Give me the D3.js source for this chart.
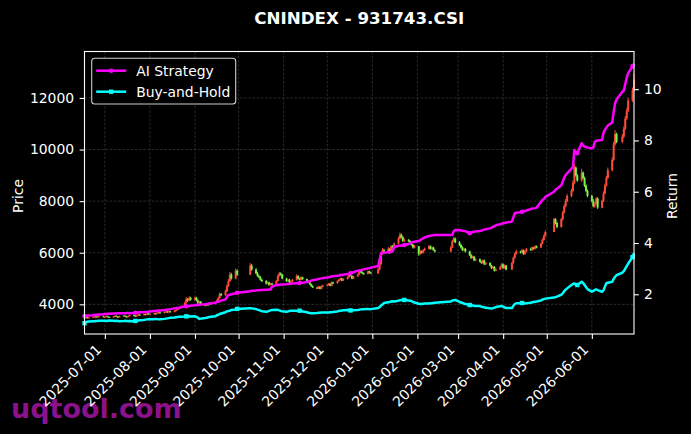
<!DOCTYPE html>
<html>
<head>
<meta charset="utf-8">
<script src="https://cdn.jsdelivr.net/npm/d3@7"></script>
<style>
    body { margin: 0; background: #000; }
    svg { display: block; font-family: "DejaVu Sans", sans-serif; }
</style>
</head>
<body>
<div id="chart-area"></div>
<script>
// trading calendar: weekdays between these dates, minus exchange holidays
const startDate = "2025-06-17";
const endDate = "2026-06-30";
const holidays = [
    "2025-10-01", "2025-10-02", "2025-10-03", "2025-10-06", "2025-10-07", "2025-10-08",
    "2026-01-01", "2026-01-02",
    "2026-02-16", "2026-02-17", "2026-02-18", "2026-02-19", "2026-02-20", "2026-02-23",
    "2026-04-06", "2026-05-01", "2026-05-04", "2026-05-05", "2026-06-19"
];

// daily close of 931743.CSI (one row per month); open = previous close
const closes = [
    3480, 3500, 3470, 3490, 3510, 3530, 3500, 3520, 3540, 3510,
    3520, 3540, 3510, 3490, 3530, 3550, 3520, 3500, 3540, 3560, 3530, 3510, 3550, 3580, 3560, 3540, 3570, 3600, 3580, 3620, 3600, 3640, 3610,
    3620, 3650, 3630, 3670, 3690, 3660, 3700, 3720, 3690, 3730, 3700, 3750, 3780, 3820, 3850, 3900, 4050, 4200, 4150, 4250, 4180,
    4250, 4150, 4050, 4100, 4000, 3950, 4000, 3980, 4050, 4020, 4080, 4150, 4250, 4400, 4350, 4500, 4700, 4900, 5150, 5000, 5300, 5150,
    5500, 5350, 5200, 5100, 5050, 4950, 4900, 4800, 4850, 4750, 4800, 4780, 4900, 5100, 5200, 5150, 5000,
    4900, 4950, 4850, 4880, 4950, 5100, 5000, 4950, 5050, 4980, 4900, 4850, 4780, 4700, 4650, 4620, 4680, 4600, 4700, 4720,
    4750, 4800, 4720, 4850, 4820, 4900, 4950, 5000, 4920, 4980, 5050, 5150, 5100, 5000, 5080, 5150, 5300, 5250, 5200, 5180, 5280, 5230, 5200,
    5350, 5550, 5950, 6100, 6050, 6150, 6000, 6250, 6200, 6350, 6550, 6700, 6600, 6450, 6500, 6450, 6350, 6300, 6200, 6250,
    5950, 6050, 6000, 6100, 6150, 6250, 6150, 6200, 6100, 6050, 6200, 6450, 6550, 6400,
    6300, 6200, 6100, 6150, 6050, 5900, 5800, 5850, 5700, 5750, 5650, 5600, 5700, 5550, 5600, 5500, 5400, 5450, 5300, 5350, 5450, 5550,
    5400, 5500, 5350, 5600, 5800, 5950, 6050, 6000, 6100, 5950, 6050, 6150, 6100, 6200, 6150, 6250, 6200, 6350, 6500, 6650, 6800,
    7300, 7150, 7000, 7300, 7550, 7800, 8000, 8200, 8400, 8700, 9300, 9000, 8800, 9100, 8900, 8600, 8400, 8200,
    8000, 7800, 7900, 8100, 7750, 8000, 8300, 8600, 8900, 9200, 9600, 10200, 10600, 10300, 10500, 10800, 11200, 11500, 11900, 12300, 12700
];

const highs = [
    3510, 3530, 3515, 3510, 3535, 3560, 3545, 3540, 3565, 3550,
    3545, 3565, 3560, 3530, 3550, 3575, 3570, 3540, 3565, 3590, 3575, 3550, 3575, 3610, 3600, 3575, 3595, 3630, 3615, 3650, 3640, 3670, 3660,
    3650, 3680, 3670, 3700, 3720, 3710, 3730, 3750, 3740, 3760, 3750, 3780, 3810, 3860, 3890, 3950, 4100, 4280, 4240, 4320, 4290,
    4300, 4290, 4190, 4140, 4130, 4030, 4040, 4030, 4090, 4080, 4110, 4190, 4300, 4460, 4440, 4560, 4770, 4980, 5250, 5220, 5380, 5360,
    5600, 5560, 5400, 5260, 5150, 5090, 4990, 4940, 4890, 4880, 4830, 4840, 4940, 5150, 5260, 5240, 5180,
    5030, 4980, 4990, 4910, 4980, 5160, 5130, 5030, 5090, 5070, 5000, 4930, 4880, 4800, 4730, 4680, 4720, 4700, 4740, 4760,
    4780, 4830, 4820, 4880, 4880, 4930, 4990, 5040, 5020, 5010, 5090, 5190, 5180, 5120, 5110, 5190, 5360, 5330, 5280, 5230, 5310, 5300, 5260,
    5420, 5620, 6020, 6180, 6150, 6220, 6180, 6300, 6300, 6400, 6620, 6780, 6740, 6640, 6560, 6530, 6480, 6400, 6340, 6300,
    6260, 6100, 6090, 6140, 6200, 6300, 6280, 6240, 6230, 6130, 6260, 6500, 6620, 6590,
    6450, 6340, 6250, 6200, 6180, 6080, 5950, 5890, 5880, 5790, 5780, 5690, 5740, 5730, 5640, 5630, 5530, 5490, 5480, 5390, 5490, 5600,
    5580, 5540, 5530, 5640, 5850, 6000, 6110, 6080, 6150, 6120, 6090, 6190, 6200, 6240, 6230, 6290, 6280, 6390, 6550, 6710, 6860,
    7350, 7340, 7200, 7350, 7620, 7880, 8080, 8280, 8480, 8800, 9450, 9350, 9050, 9250, 9150, 8950, 8650, 8450,
    8250, 8080, 7950, 8150, 8150, 8050, 8380, 8680, 8980, 9300, 9700, 10300, 10750, 10650, 10600, 10900, 11300, 11600, 12000, 12400, 12950
];

const lows = [
    3455, 3470, 3450, 3460, 3480, 3500, 3485, 3490, 3510, 3495,
    3490, 3505, 3495, 3470, 3480, 3515, 3500, 3485, 3490, 3525, 3510, 3490, 3495, 3535, 3540, 3520, 3525, 3555, 3560, 3565, 3585, 3585, 3595,
    3595, 3605, 3610, 3615, 3650, 3640, 3645, 3680, 3675, 3680, 3685, 3690, 3730, 3765, 3800, 3830, 3880, 4020, 4100, 4120, 4140,
    4150, 4120, 4010, 4020, 3970, 3920, 3930, 3950, 3960, 3990, 4000, 4050, 4120, 4220, 4320, 4330, 4480, 4670, 4870, 4960, 4970, 5100,
    5130, 5300, 5170, 5070, 5010, 4920, 4860, 4770, 4780, 4720, 4730, 4750, 4760, 4880, 5070, 5110, 4970,
    4870, 4880, 4820, 4830, 4860, 4920, 4970, 4920, 4930, 4950, 4880, 4830, 4750, 4680, 4630, 4590, 4600, 4580, 4590, 4680,
    4700, 4720, 4700, 4700, 4790, 4800, 4880, 4930, 4900, 4900, 4960, 5030, 5080, 4970, 4980, 5060, 5130, 5220, 5180, 5150, 5160, 5200, 5170,
    5180, 5320, 5520, 5920, 6010, 6020, 5960, 5980, 6150, 6170, 6320, 6520, 6560, 6420, 6420, 6410, 6320, 6270, 6160, 6170,
    5880, 5920, 5970, 5970, 6070, 6120, 6120, 6120, 6080, 6010, 6020, 6180, 6420, 6370,
    6260, 6160, 6060, 6070, 6010, 5870, 5760, 5780, 5670, 5680, 5620, 5570, 5580, 5520, 5520, 5470, 5370, 5380, 5270, 5280, 5330, 5420,
    5370, 5380, 5320, 5330, 5570, 5770, 5920, 5970, 5980, 5920, 5920, 6020, 6070, 6080, 6120, 6130, 6170, 6180, 6330, 6470, 6620,
    6850, 7100, 6950, 6970, 7250, 7520, 7760, 7960, 8150, 8360, 8650, 8950, 8750, 8750, 8850, 8550, 8350, 8150,
    7950, 7760, 7740, 7860, 7700, 7720, 7960, 8260, 8560, 8860, 9150, 9550, 10150, 10250, 10250, 10450, 10750, 11150, 11450, 11850, 12250
];

// cumulative return of the AI strategy
const aiStrategy = [
    1.15, 1.16, 1.17, 1.17, 1.18, 1.19, 1.20, 1.20, 1.21, 1.22,
    1.23, 1.23, 1.24, 1.24, 1.25, 1.25, 1.25, 1.26, 1.26, 1.26, 1.26, 1.27, 1.27, 1.26, 1.27, 1.28, 1.29, 1.29, 1.30, 1.30, 1.31, 1.31, 1.32,
    1.33, 1.35, 1.35, 1.36, 1.37, 1.37, 1.39, 1.40, 1.40, 1.41, 1.42, 1.45, 1.46, 1.46, 1.47, 1.49, 1.52, 1.53, 1.53, 1.54, 1.55,
    1.57, 1.58, 1.58, 1.59, 1.60, 1.61, 1.62, 1.63, 1.64, 1.65, 1.67, 1.70, 1.71, 1.73, 1.75, 1.80, 1.90, 1.97, 1.98, 2.00, 2.04, 2.06,
    2.12, 2.14, 2.15, 2.16, 2.16, 2.17, 2.17, 2.18, 2.18, 2.19, 2.19, 2.30, 2.36, 2.36, 2.37, 2.38, 2.38,
    2.39, 2.40, 2.40, 2.41, 2.42, 2.43, 2.43, 2.44, 2.45, 2.45, 2.48, 2.50, 2.51, 2.53, 2.55, 2.58, 2.60, 2.61, 2.62, 2.63,
    2.65, 2.66, 2.68, 2.69, 2.70, 2.72, 2.73, 2.75, 2.75, 2.76, 2.79, 2.80, 2.82, 2.84, 2.86, 2.92, 2.93, 2.94, 2.96, 2.97, 3.01, 3.02, 3.04,
    3.10, 3.35, 3.60, 3.61, 3.62, 3.64, 3.65, 3.66, 3.68, 3.85, 3.88, 3.89, 3.90, 3.91, 3.92, 3.96, 3.99, 4.01, 4.04, 4.05,
    4.08, 4.12, 4.15, 4.18, 4.22, 4.27, 4.28, 4.29, 4.30, 4.31, 4.31, 4.32, 4.45, 4.51,
    4.50, 4.49, 4.48, 4.47, 4.46, 4.38, 4.41, 4.43, 4.44, 4.45, 4.47, 4.48, 4.50, 4.52, 4.54, 4.57, 4.60, 4.63, 4.66, 4.69, 4.73, 4.75,
    4.77, 4.78, 4.80, 4.83, 5.00, 5.16, 5.18, 5.20, 5.22, 5.23, 5.25, 5.27, 5.32, 5.35, 5.35, 5.36, 5.38, 5.60, 5.68, 5.72, 5.80,
    6.00, 6.08, 6.12, 6.25, 6.40, 6.55, 6.65, 6.72, 6.90, 6.97, 7.63, 7.55, 7.50, 7.89, 7.80, 7.76, 7.75, 7.72,
    7.70, 7.72, 7.95, 7.98, 8.00, 8.02, 8.30, 8.41, 8.50, 8.58, 8.70, 9.10, 9.45, 9.60, 9.90, 9.95, 10.20, 10.45, 10.62, 10.90, 10.98
];

// cumulative return of buy-and-hold
const buyHold = [
    0.87, 0.92, 0.93, 0.94, 0.95, 0.95, 0.96, 0.96, 0.97, 0.97,
    0.97, 0.96, 0.97, 0.98, 0.97, 0.96, 0.97, 0.96, 0.95, 0.96, 0.97, 0.96, 0.95, 0.96, 0.95, 0.96, 0.97, 0.98, 0.99, 1.00, 1.01, 1.02, 1.03,
    1.03, 1.03, 1.04, 1.03, 1.02, 1.03, 1.04, 1.05, 1.06, 1.07, 1.08, 1.09, 1.10, 1.11, 1.12, 1.12, 1.13, 1.14, 1.13, 1.14, 1.13,
    1.14, 1.12, 1.08, 1.04, 1.05, 1.07, 1.08, 1.10, 1.11, 1.12, 1.14, 1.18, 1.20, 1.23, 1.25, 1.30, 1.33, 1.35, 1.36, 1.39, 1.41, 1.43,
    1.45, 1.45, 1.42, 1.40, 1.38, 1.36, 1.34, 1.32, 1.33, 1.35, 1.37, 1.39, 1.40, 1.39, 1.37, 1.35, 1.34,
    1.32, 1.33, 1.35, 1.36, 1.36, 1.36, 1.36, 1.36, 1.35, 1.33, 1.30, 1.28, 1.27, 1.26, 1.26, 1.27, 1.28, 1.28, 1.29, 1.29,
    1.29, 1.29, 1.30, 1.30, 1.31, 1.33, 1.35, 1.36, 1.37, 1.38, 1.39, 1.38, 1.37, 1.37, 1.38, 1.39, 1.40, 1.41, 1.42, 1.42, 1.43, 1.42, 1.42,
    1.46, 1.50, 1.56, 1.60, 1.66, 1.69, 1.70, 1.72, 1.73, 1.72, 1.75, 1.77, 1.78, 1.79, 1.78, 1.76, 1.75, 1.73, 1.70, 1.68,
    1.63, 1.62, 1.62, 1.63, 1.64, 1.64, 1.65, 1.65, 1.66, 1.67, 1.72, 1.75, 1.77, 1.78,
    1.70, 1.68, 1.66, 1.64, 1.62, 1.58, 1.57, 1.56, 1.55, 1.54, 1.54, 1.52, 1.50, 1.49, 1.47, 1.45, 1.44, 1.46, 1.48, 1.50, 1.53, 1.54,
    1.52, 1.49, 1.46, 1.46, 1.55, 1.62, 1.65, 1.65, 1.66, 1.65, 1.64, 1.65, 1.67, 1.69, 1.70, 1.71, 1.72, 1.76, 1.79, 1.81, 1.83,
    1.87, 1.89, 1.91, 1.98, 2.04, 2.12, 2.18, 2.23, 2.36, 2.40, 2.42, 2.37, 2.36, 2.49, 2.44, 2.36, 2.28, 2.20,
    2.10, 2.13, 2.17, 2.19, 2.16, 2.10, 2.15, 2.30, 2.43, 2.45, 2.49, 2.60, 2.68, 2.75, 2.84, 2.90, 3.00, 3.10, 3.20, 3.45, 3.60
];

const priceTicks = [4000, 6000, 8000, 10000, 12000];
const returnTicks = [2, 4, 6, 8, 10];
const priceDomain = [2850, 13800];
const returnDomain = [0.45, 11.47];

class CandleChart {
    constructor(parentElement) {
        this.parentElement = parentElement;
        this.initVis();
    }

    initVis() {
        const vis = this;
        const parse = d3.timeParse("%Y-%m-%d");
        const fmt = d3.timeFormat("%Y-%m-%d");

        vis.margin = { top: 51.5, right: 57, bottom: 100, left: 84.5 };
        vis.width = 691 - vis.margin.left - vis.margin.right;
        vis.height = 434 - vis.margin.top - vis.margin.bottom;

        vis.dates = d3.timeDay.range(parse(startDate), d3.timeDay.offset(parse(endDate), 1))
            .filter(d => d.getDay() !== 0 && d.getDay() !== 6 && !holidays.includes(fmt(d)));
        if (vis.dates.length !== closes.length) console.log("length mismatch", vis.dates.length, closes.length);

        vis.data = vis.dates.map((d, i) => ({
            date: d,
            open: i === 0 ? closes[0] : closes[i - 1],
            close: closes[i],
            high: highs[i],
            low: lows[i],
            ai: aiStrategy[i],
            bh: buyHold[i]
        }));

        vis.root = d3.select(vis.parentElement)
            .append("svg")
            .attr("width", 691)
            .attr("height", 434);

        vis.root.append("rect").attr("width", 691).attr("height", 434).attr("fill", "#000");

        // watermark sits under the tick labels
        vis.root.append("text")
            .attr("x", 11).attr("y", 418)
            .attr("font-size", 27).attr("font-weight", "bold")
            .attr("fill", "#8a128a")
            .text("uqtool.com");

        vis.root.append("text")
            .attr("x", vis.margin.left + vis.width / 2).attr("y", 23.5)
            .attr("text-anchor", "middle")
            .attr("font-size", 16.7).attr("font-weight", "bold")
            .attr("fill", "#fff")
            .text("CNINDEX - 931743.CSI");

        vis.svg = vis.root.append("g")
            .attr("transform", `translate(${vis.margin.left}, ${vis.margin.top})`);

        vis.x = d3.scaleTime().domain([parse(startDate), parse(endDate)]).range([0, vis.width]);
        vis.yPrice = d3.scaleLinear().domain(priceDomain).range([vis.height, 0]);
        vis.yRet = d3.scaleLinear().domain(returnDomain).range([vis.height, 0]);

        vis.monthTicks = d3.timeMonth.range(parse("2025-07-01"), parse("2026-06-02"));

        // grid
        const grid = vis.svg.append("g");
        grid.selectAll("line.vgrid")
            .data(vis.monthTicks)
            .join("line")
            .attr("x1", d => vis.x(d)).attr("x2", d => vis.x(d))
            .attr("y1", 0).attr("y2", vis.height);
        grid.selectAll("line.hgrid")
            .data(priceTicks)
            .join("line")
            .attr("x1", 0).attr("x2", vis.width)
            .attr("y1", d => vis.yPrice(d)).attr("y2", d => vis.yPrice(d));
        grid.selectAll("line")
            .attr("stroke", "#777").attr("stroke-opacity", 0.6)
            .attr("stroke-width", 0.6).attr("stroke-dasharray", "2.6,1.6");

        // candles: red up, green down
        const candles = vis.svg.append("g").selectAll("g")
            .data(vis.data)
            .join("g")
            .attr("fill", d => d.close >= d.open ? "#ff4b3a" : "#7af24a")
            .attr("stroke", d => d.close >= d.open ? "#ff4b3a" : "#7af24a");
        candles.append("line")
            .attr("x1", d => vis.x(d.date)).attr("x2", d => vis.x(d.date))
            .attr("y1", d => vis.yPrice(d.high)).attr("y2", d => vis.yPrice(d.low))
            .attr("stroke-width", 1);
        candles.append("rect")
            .attr("stroke", "none")
            .attr("x", d => vis.x(d.date) - 1)
            .attr("width", 2)
            .attr("y", d => vis.yPrice(Math.max(d.open, d.close)))
            .attr("height", d => Math.max(1, Math.abs(vis.yPrice(d.open) - vis.yPrice(d.close))));

        vis.series = [
            { name: "AI Strategy", key: "ai", color: "#ff00ff", marker: "circle" },
            { name: "Buy-and-Hold", key: "bh", color: "#00ffff", marker: "square" }
        ];

        vis.series.forEach(s => {
            vis.svg.append("path")
                .datum(vis.data)
                .attr("fill", "none")
                .attr("stroke", s.color)
                .attr("stroke-width", 2.5)
                .attr("stroke-linejoin", "round")
                .attr("d", d3.line().x(d => vis.x(d.date)).y(d => vis.yRet(d[s.key])));

            const marks = vis.data.filter((d, i) => i % 25 === 0);
            vis.drawMarkers(vis.svg, marks.map(d => [vis.x(d.date), vis.yRet(d[s.key])]), s);
        });

        // frame
        vis.svg.append("rect")
            .attr("width", vis.width).attr("height", vis.height)
            .attr("fill", "none").attr("stroke", "#fff").attr("stroke-width", 1.1);

        // axes
        const xAxis = vis.svg.append("g")
            .attr("transform", `translate(0, ${vis.height})`)
            .call(d3.axisBottom(vis.x).tickValues(vis.monthTicks).tickFormat(fmt).tickSize(4.9));
        xAxis.selectAll("text")
            .attr("y", 0).attr("dy", 0)
            .attr("text-anchor", "end")
            .attr("transform", "translate(-3, 16.5) rotate(-45)");

        vis.svg.append("g")
            .call(d3.axisLeft(vis.yPrice).tickValues(priceTicks).tickFormat(d3.format("d"))
                .tickSize(4.9).tickPadding(5.5));

        vis.svg.append("g")
            .attr("transform", `translate(${vis.width}, 0)`)
            .call(d3.axisRight(vis.yRet).tickValues(returnTicks).tickSize(4.9).tickPadding(5));

        vis.svg.selectAll(".domain").remove();
        vis.svg.selectAll(".tick line").attr("stroke", "#fff").attr("stroke-width", 1.1);
        vis.svg.selectAll(".tick text")
            .attr("fill", "#fff").attr("font-size", 13.9).attr("font-family", "DejaVu Sans");

        vis.root.append("text")
            .attr("transform", "translate(23, 196) rotate(-90)")
            .attr("text-anchor", "middle").attr("font-size", 13.9).attr("fill", "#fff")
            .text("Price");
        vis.root.append("text")
            .attr("transform", "translate(677, 196) rotate(-90)")
            .attr("text-anchor", "middle").attr("font-size", 13.9).attr("fill", "#fff")
            .text("Return");

        // legend
        const legend = vis.root.append("g").attr("transform", "translate(91.7, 58.3)");
        legend.append("rect")
            .attr("width", 144).attr("height", 45.7).attr("rx", 3)
            .attr("fill", "#000").attr("fill-opacity", 0.8)
            .attr("stroke", "#ccc").attr("stroke-width", 1.1);
        vis.series.forEach((s, i) => {
            const cy = 12.4 + i * 21;
            legend.append("line")
                .attr("x1", 4.5).attr("x2", 34.5).attr("y1", cy).attr("y2", cy)
                .attr("stroke", s.color).attr("stroke-width", 2.5);
            vis.drawMarkers(legend, [[19.5, cy]], s);
            legend.append("text")
                .attr("x", 44.5).attr("y", cy).attr("dy", "0.36em")
                .attr("font-size", 13.9).attr("fill", "#fff")
                .text(s.name);
        });
    }

    drawMarkers(parent, points, s) {
        if (s.marker === "circle") {
            parent.append("g").selectAll("circle")
                .data(points).join("circle")
                .attr("cx", d => d[0]).attr("cy", d => d[1]).attr("r", 2.3)
                .attr("fill", s.color);
        } else {
            parent.append("g").selectAll("rect")
                .data(points).join("rect")
                .attr("x", d => d[0] - 2.2).attr("y", d => d[1] - 2.2)
                .attr("width", 4.4).attr("height", 4.4)
                .attr("fill", s.color);
        }
    }
}

new CandleChart("#chart-area");
</script>
</body>
</html>
